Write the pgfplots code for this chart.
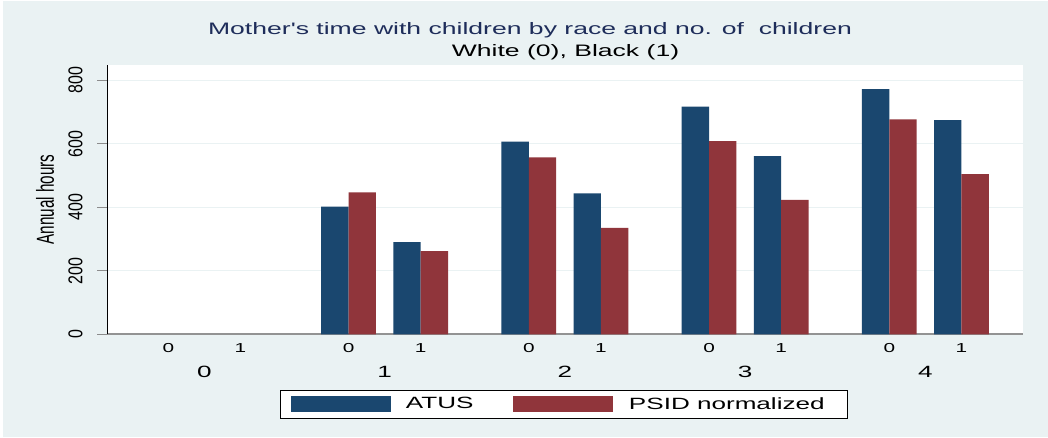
\documentclass[border=0pt]{standalone}
\usepackage{fontspec}
\setmainfont{Liberation Sans}[FakeStretch=1.6]
\newfontfamily\titlefont{Liberation Sans}[FakeStretch=1.6, Ligatures=TeXOff]
\newfontfamily\rotfont{Liberation Sans}[FakeStretch=0.8]
\newfontfamily\ylabfont{Liberation Sans}[FakeStretch=0.62]
\usepackage{pgfplots}
\pgfplotsset{compat=1.18}
\definecolor{statanavy}{RGB}{26,71,111}
\definecolor{statamaroon}{RGB}{144,53,59}
\definecolor{bgcol}{RGB}{234,242,243}
\definecolor{titlecol}{RGB}{30,45,90}
\begin{document}
\begin{tikzpicture}[x=1bp,y=1bp]
\useasboundingbox (0,0) rectangle (1048,438);
\fill[white] (0,0) rectangle (1048,438);
\fill[bgcol] (3,0.5) rectangle (1048,436.5);
\node[anchor=base, text=titlecol, font=\titlefont\fontsize{16.6bp}{18bp}\selectfont] at (530,403.7) {Mother's time with children by race and no. of \ children};
\node[anchor=base, text=black, font=\fontsize{16.6bp}{18bp}\selectfont] at (565.5,381.3) {White (0), Black (1)};
\begin{axis}[
  at={(107bp,103.7bp)}, anchor=south west,
  scale only axis, width=915.7bp, height=269.3bp,
  xmin=-0.85, xmax=11.85, ymin=0, ymax=848,
  axis x line=bottom, axis y line=left,
  x axis line style={-, draw=gray!85, line width=1.6bp},
  y axis line style={-, draw=black, line width=1bp},
  axis background/.style={fill=white},
  ymajorgrids, grid style={draw=bgcol, line width=1.4bp},
  ytick={0,200,400,600,800},
  tick align=outside, major tick length=10bp,
  ytick style={draw=gray!90, line width=1bp},
  xtick style={draw=none},
  xtick={0,1,2.5,3.5,5,6,7.5,8.5,10,11},
  xticklabels={0,1,0,1,0,1,0,1,0,1},
  xticklabel style={anchor=center, yshift=-3.7bp, font=\fontsize{13bp}{13bp}\selectfont},
  extra x ticks={0.5,3,5.5,8,10.5},
  extra x tick labels={0,1,2,3,4},
  extra x tick style={xtick style={draw=none}, xticklabel style={yshift=-24bp, font=\fontsize{16.3bp}{16bp}\selectfont}},
  /pgf/number format/assume math mode=true,
  yticklabel style={rotate=90, anchor=center, yshift=21.5bp, font=\rotfont\fontsize{20bp}{20bp}\selectfont},
  ylabel={Annual hours},
  ylabel style={at={(axis description cs:-0.0677,0.5006)}, anchor=center, rotate=0, font=\ylabfont\fontsize{24.6bp}{24bp}\selectfont},
  legend style={at={(axis description cs:0.4985,-0.2588)}, anchor=center, draw=black, line width=0.8bp, fill=white,
    legend columns=2, font=\fontsize{16.3bp}{16bp}\selectfont, inner xsep=11bp, inner ysep=6bp,
    nodes={inner sep=0pt}, column sep=0pt},
  legend cell align=left,
  clip=false,
]
\addplot[ybar, bar width=0.38, bar shift=-0.19, fill=statanavy, draw=none,
  legend image code/.code={\fill[statanavy] (0bp,-8bp) rectangle (100bp,8bp);}]
  coordinates {(2.5,402) (3.5,290) (5,607) (6,444) (7.5,717) (8.5,561) (10,772) (11,674)};
\addlegendentry{\makebox[122bp][l]{\hspace{15bp}ATUS}}
\addplot[ybar, bar width=0.38, bar shift=0.19, fill=statamaroon, draw=none,
  legend image code/.code={\fill[statamaroon] (0bp,-8bp) rectangle (100bp,8bp);}]
  coordinates {(2.5,447) (3.5,262) (5,557) (6,335) (7.5,608) (8.5,423) (10,677) (11,504)};
\addlegendentry{\makebox[223bp][l]{\hspace{16bp}PSID normalized}}
\end{axis}
\end{tikzpicture}
\end{document}
